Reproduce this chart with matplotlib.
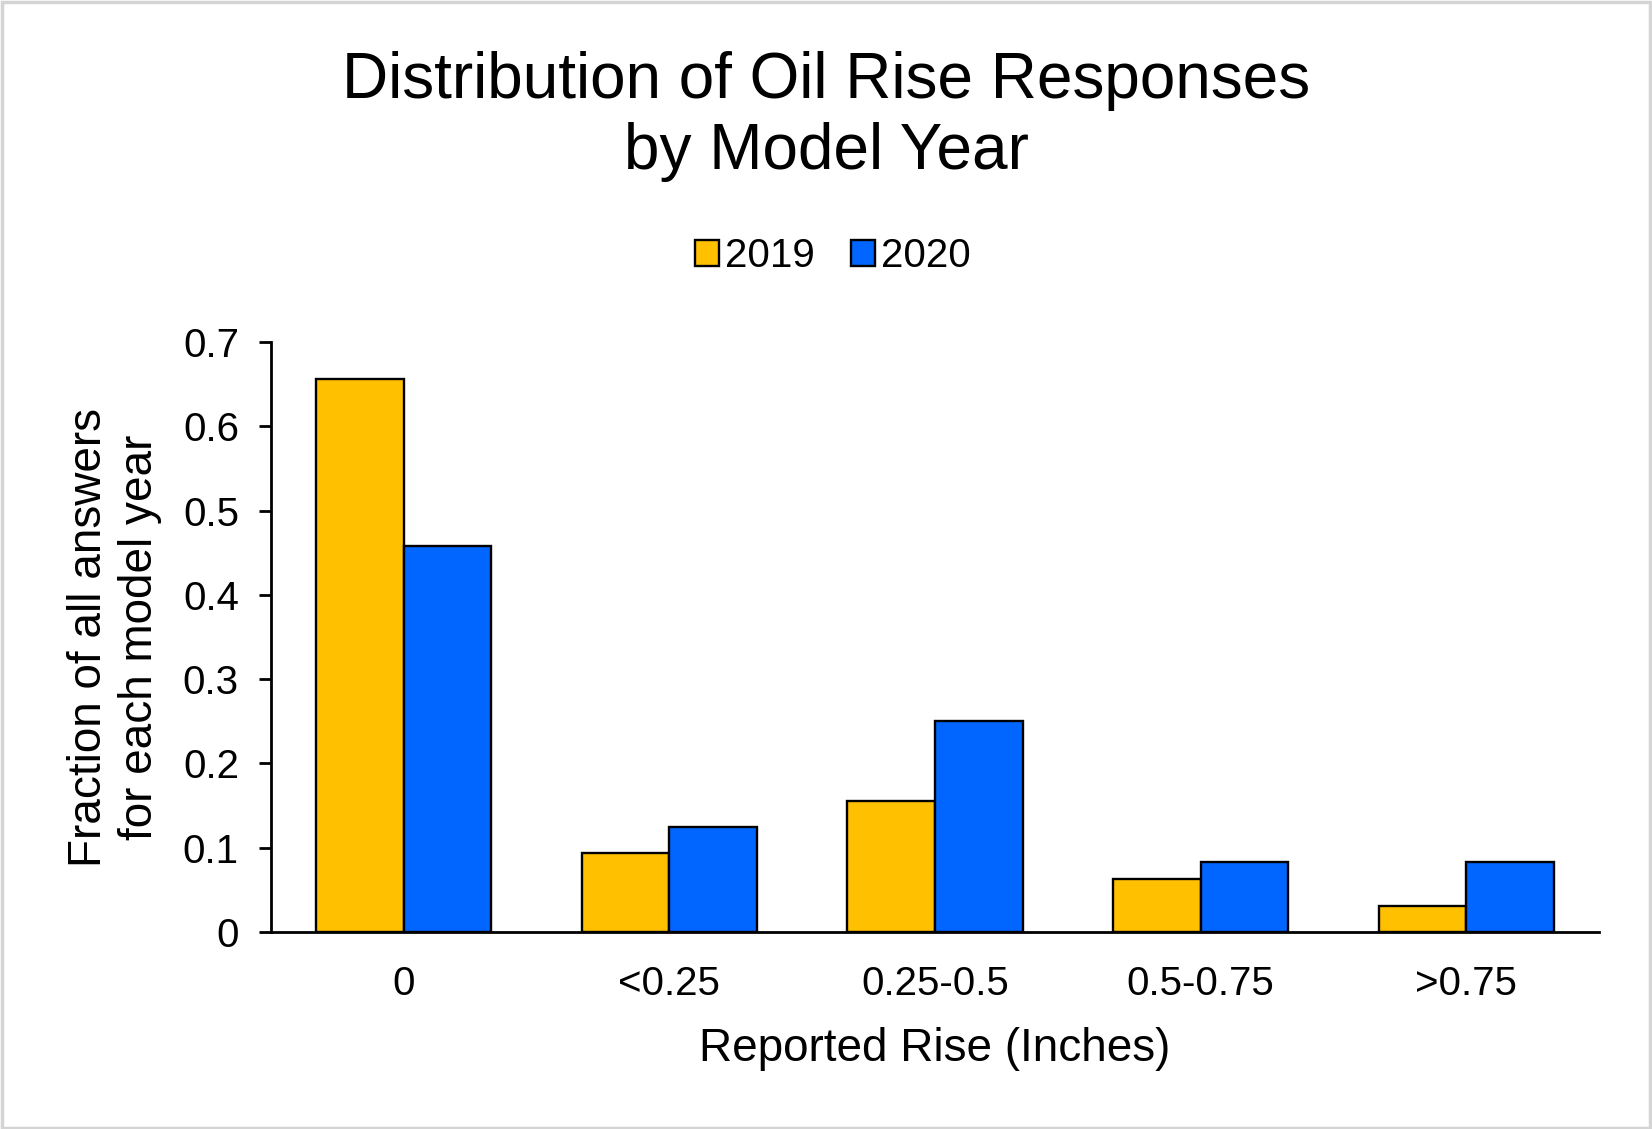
import matplotlib
matplotlib.use("Agg")
import matplotlib.pyplot as plt
import numpy as np
from matplotlib.patches import Rectangle

plt.rcParams['font.family'] = ['Liberation Sans', 'DejaVu Sans']

categories = ["0", "<0.25", "0.25-0.5", "0.5-0.75", ">0.75"]
series_names = ["2019", "2020"]
values_2019 = [0.656, 0.094, 0.156, 0.0625, 0.031]
values_2020 = [0.458, 0.125, 0.25, 0.083, 0.083]
yticks = [0, 0.1, 0.2, 0.3, 0.4, 0.5, 0.6, 0.7]
ytick_labels = ["0", "0.1", "0.2", "0.3", "0.4", "0.5", "0.6", "0.7"]

colors = ["#FFC000", "#0066FF"]

fig = plt.figure(figsize=(16.52, 11.29), dpi=100)
ax = fig.add_axes([0.164, 0.1745, 0.804, 0.5225])

x = np.arange(len(categories))
w = 0.33
ax.bar(x - w/2, values_2019, w, color=colors[0], edgecolor="black", linewidth=1.7, label=series_names[0])
ax.bar(x + w/2, values_2020, w, color=colors[1], edgecolor="black", linewidth=1.7, label=series_names[1])

ax.set_xlim(-0.5, len(categories) - 0.5)
ax.set_ylim(0, 0.7)
ax.set_yticks(yticks)
ax.set_yticklabels(ytick_labels)
ax.set_xticks(x)
ax.set_xticklabels(categories)

for s in ["top", "right"]:
    ax.spines[s].set_visible(False)
for s in ["left", "bottom"]:
    ax.spines[s].set_linewidth(2.0)

ax.tick_params(axis="y", labelsize=29, length=9, width=2.0, pad=14, direction="out")
ax.tick_params(axis="x", labelsize=29, length=0, pad=24)

ax.set_xlabel("Reported Rise (Inches)", fontsize=33, labelpad=17)
ax.set_ylabel("Fraction of all answers\nfor each model year", fontsize=33, labelpad=15, linespacing=1.22)

fig.text(0.5, 0.897, "Distribution of Oil Rise Responses\nby Model Year", fontsize=46,
         ha="center", va="center", linespacing=1.24)

leg = fig.legend(loc="center", bbox_to_anchor=(0.504, 0.773), ncol=2, frameon=False,
                 fontsize=29, handlelength=0.6, handleheight=0.6, handletextpad=0.15,
                 columnspacing=0.9)

# light gray frame around the figure
fig.patches.append(Rectangle((0.001, 0.001), 0.998, 0.997, transform=fig.transFigure,
                             fill=False, edgecolor="#d4d4d4", linewidth=2.5))

fig.savefig("out.png", dpi=100)
